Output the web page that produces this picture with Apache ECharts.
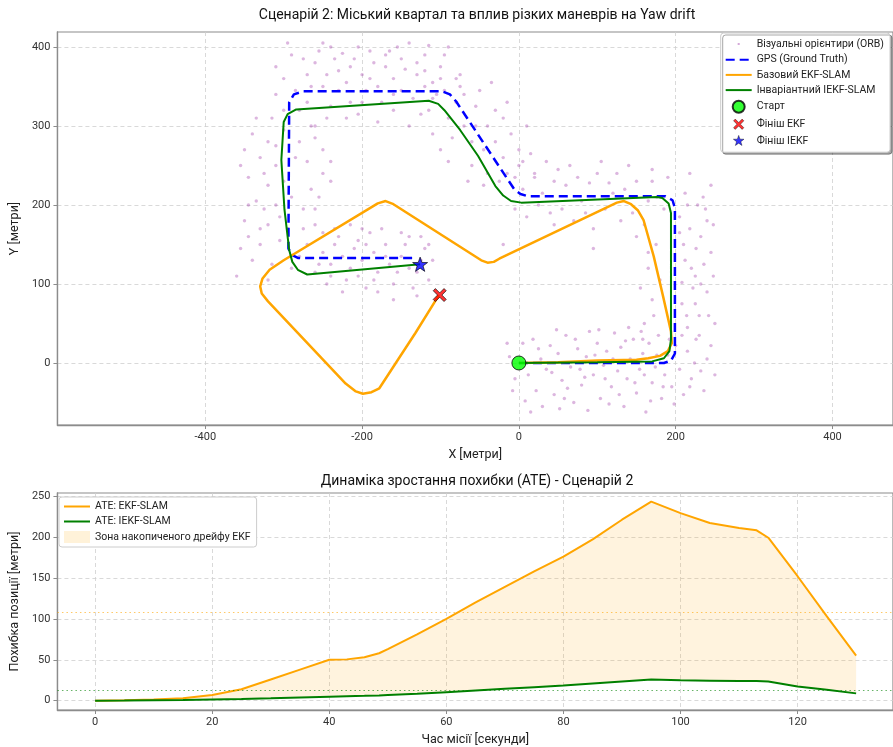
<!DOCTYPE html>
<html><head><meta charset="utf-8">
<script src="https://cdn.jsdelivr.net/npm/echarts@6/dist/echarts.min.js"></script>
<style>html,body{margin:0;padding:0;background:#fff}#c{width:893px;height:747px}</style>
</head><body><div id="c"></div>
<script>
// ---------- Top chart data (metres) ----------
const landmarks = [
[-5,-20],[-12,8],[5,25],[12,-15],[18,30],[22,-35],[28,5],[35,-8],[40,22],[45,-40],[50,12],[55,-22],[60,35],[66,-5],[70,-50],[75,18],[80,-28],[86,8],[90,40],[95,-15],[100,25],[104,-45],[108,-3],[112,15],[118,-30],[122,38],[126,-10],[130,20],[134,-55],[138,-20],[142,5],[146,30],[150,-38],[154,-8],[158,12],[162,-62],[166,25],[170,-25],[174,-5],[178,35],[182,-45],[186,-15],[190,10],[195,-30],[200,22],[205,-8],[210,-40],[215,15],[220,-20],[226,30],[232,-10],[240,5],[30,-55],[62,-32],[88,-60],[115,-52],[-8,-35],[48,42],[140,45],
[8,-48],[25,18],[42,-12],[58,-45],[72,30],[84,-18],[97,10],[110,-20],[120,5],[128,-40],[136,28],[148,-25],[156,40],[168,-48],[176,10],[184,-30],[192,30],[198,-52],[208,35],[218,-30],[224,0],[236,-35],[245,22],[250,-15],[-15,25],[15,-62],[52,-58],[78,-8],[102,42],[160,-15],
[160,50],[215,45],[230,60],[170,80],[208,75],[240,90],[225,110],[165,120],[212,130],[245,140],[232,160],[175,150],[218,170],[205,185],[240,180],[160,175],[228,200],[185,195],[212,215],[245,225],[170,230],[222,95],[180,105],[236,125],[210,150],[155,95],[248,175],[214,60],[230,35],[218,240],[190,235],[235,210],[208,102],[226,145],[172,60],[242,60],[220,120],[205,165],
[158,30],[225,75],[248,110],[165,140],[238,195],[176,210],[150,160],[232,100],[215,200],[250,50],
[150,230],[120,215],[100,240],[80,205],[60,225],[40,190],[20,235],[0,250],[130,180],[110,195],[90,228],[70,180],[50,245],[30,215],[10,185],[140,250],[165,205],[-15,240],[125,240],[95,170],[55,195],[5,220],[75,235],[35,255],[115,228],[145,190],[95,145],[-20,150],[45,175],
[170,245],[135,220],[105,255],[85,190],[65,250],[25,200],[-5,195],[150,210],[45,230],
[-20,260],[0,270],[-40,300],[-10,290],[-60,280],[-30,320],[-80,330],[-50,345],[-70,300],[-100,360],[-90,310],[-110,290],[-60,250],[-40,240],[10,300],[-15,330],[-75,365],[-120,370],[-45,270],[-25,230],[5,255],[-85,285],[-55,325],[-95,345],[-35,355],[-5,235],[20,240],[-65,230],[-100,270],[-115,320],
[-30,280],[-70,340],[-110,335],[-20,310],[-45,225],[15,265],[-90,255],[-55,300],
[-300,360],[-310,375],[-290,390],[-270,365],[-260,380],[-250,350],[-240,400],[-230,370],[-220,355],[-210,385],[-200,365],[-190,395],[-180,350],[-170,375],[-160,360],[-150,385],[-140,405],[-130,365],[-120,390],[-110,355],[-100,375],[-90,400],[-80,360],[-280,320],[-260,300],[-240,325],[-220,310],[-200,330],[-180,305],[-160,320],[-140,300],[-125,315],[-255,395],[-205,400],[-165,395],[-115,402],[-285,345],[-235,385],[-195,345],[-150,345],[-270,330],[-245,310],[-175,330],[-105,340],[-215,330],[-135,335],[-225,392],[-185,380],[-145,372],
[-310,340],[-295,405],[-275,385],[-245,365],[-215,375],[-190,360],[-155,400],[-130,380],[-95,390],[-75,350],[-265,350],[-230,345],[-160,340],[-120,350],[-300,320],[-205,315],[-250,405],[-170,390],
[-340,290],[-320,280],[-300,295],[-260,285],[-250,270],[-330,260],[-310,250],[-270,255],[-345,235],[-320,225],[-300,230],[-265,220],[-250,240],[-335,205],[-310,200],[-275,195],[-350,180],[-320,175],[-295,170],[-260,175],[-330,150],[-305,155],[-270,150],[-340,130],[-315,125],[-280,135],[-360,110],[-320,105],[-350,270],[-280,280],[-255,210],[-325,195],[-290,210],[-345,160],[-275,170],[-310,275],[-240,255],[-335,310],
[-355,250],[-325,240],[-285,260],[-265,300],[-345,200],[-305,185],[-260,195],[-330,170],[-290,120],[-355,145],[-240,230],[-315,310],
[-260,115],[-250,140],[-240,125],[-230,160],[-220,105],[-210,145],[-200,130],[-190,165],[-180,115],[-170,150],[-160,100],[-150,135],[-140,160],[-130,115],[-120,145],[-115,105],[-245,100],[-225,135],[-205,110],[-185,140],[-165,125],[-145,150],[-125,130],[-235,170],[-195,95],[-175,170],[-155,115],[-135,95],[-110,130],[-215,175],[-250,165],[-160,80],[-195,150],[-225,90],
[-255,125],[-235,150],[-215,120],[-200,170],[-185,105],[-170,135],[-150,165],[-140,120],[-125,160],[-115,150],[-130,85],[-180,90],[-240,110],[-205,155]
];
const gpsPath = [[0,0],[185,0],[194,3],[199,12],[199,196],[196,206],[187,211],[12,211],[2,214],[-6,220],[-80,331],[-88,340],[-98,344],[-275,344],[-287,340],[-293,330],[-294,145],[-290,137],[-282,133],[-135,133]];
const ekfPath = [[0,0],[50,1],[100,3],[150,4],[165,6],[180,9],[190,15],[195,25],[194,40],[184,84],[172,135],[159,181],[152,193],[143,201],[134,205],[125,203],[-25,132],[-32,128],[-40,127],[-48,130],[-160,201],[-170,205],[-180,202],[-300,130],[-318,118],[-327,107],[-330,97],[-328,88],[-320,78],[-221,-26],[-208,-36],[-199,-39],[-188,-37],[-178,-32],[-157,0],[-132,38],[-102,86]];
const iekfPath = [[0,0],[100,1],[170,2],[185,6],[192,15],[194,30],[194,190],[191,202],[183,209],[176,210],[3,203],[-10,205],[-20,212],[-30,224],[-52,262],[-75,295],[-95,320],[-103,328],[-115,332],[-284,321],[-295,315],[-300,305],[-303,257],[-299,194],[-293,143],[-289,128],[-282,118],[-270,112],[-126,125]];
const startPoint = [0,0];
const ekfFinish = [-101,86];
const iekfFinish = [-126,125];
const topXTicks = [-400,-200,0,200,400];
const topYTicks = [0,100,200,300,400];

// ---------- Bottom chart data ----------
const missionTime = [0,5,10,15,20,25,30,35,40,43,46,48.5,50,55,60,65,70,75,80,85,90,95,100,105,110,113,115,120,125,130];
const ekfAte  = [0,0.5,1.5,3,7,14,26,38,50,50.5,53,58,63,81,100,120,139,158,176,197,221,243,229,217,211,208,199,152,103,55];
const iekfAte = [0,0.2,0.5,0.8,1.5,2.2,3,4,5,5.5,6,6.5,7,8.5,10.5,12.5,14.5,16.5,18.5,21,23.5,26,25,24.5,24,24,23.5,17.5,13.5,9];
const ekfAteMean = 108;
const iekfAteMean = 12.2;
const bottomXTicks = [0,20,40,60,80,100,120];
const bottomYTicks = [0,50,100,150,200,250];

// ---------- Build ----------
const FONT = 'Roboto';
const pair = (xs, ys) => xs.map((x, i) => [x, ys[i]]);
const xPath = 'path://M-6,-4L-4,-6L0,-2L4,-6L6,-4L2,0L6,4L4,6L0,2L-4,6L-6,4L-2,0Z';
const starPath = 'path://M0,-6.5L1.53,-2.1L6.18,-2.01L2.47,0.8L3.82,5.26L0,2.6L-3.82,5.26L-2.47,0.8L-6.18,-2.01L-1.53,-2.1Z';
const xIcon = 'path://M0,0M26,14M7,3L9,1L13,5L17,1L19,3L15,7L19,11L17,13L13,9L9,13L7,11L11,7Z';
const starIcon = 'path://M0,0M26,14M13,0.5L14.53,4.9L19.18,4.99L15.47,7.8L16.82,12.26L13,9.6L9.18,12.26L10.53,7.8L6.82,4.99L11.47,4.9Z';
const dotIcon = 'path://M0,0M26,14M11.8,5.8L14.2,5.8L14.2,8.2L11.8,8.2Z';

const axisCommon = {
  axisLine: {show: true, onZero: false, lineStyle: {color: '#8c8c8c', width: 1.3}},
  axisTick: {show: true, length: 4, lineStyle: {color: '#8c8c8c'}},
  splitLine: {show: true, lineStyle: {color: '#cfcfcf', type: [4, 3], width: 0.8}},
  axisLabel: {color: '#333', fontFamily: FONT, fontSize: 11, margin: 7},
  nameTextStyle: {color: '#222', fontFamily: FONT, fontSize: 12.5},
  nameLocation: 'middle'
};
function axis(extra, ticks) {
  const a = JSON.parse(JSON.stringify(axisCommon));
  Object.assign(a, extra);
  a.type = 'value';
  a.axisTick.customValues = ticks;
  a.axisLabel.customValues = ticks;
  return a;
}

const chart = echarts.init(document.getElementById('c'));
const lineOnly = {itemStyle: {opacity: 0}};

chart.setOption({
  animation: false,
  backgroundColor: '#fff',
  title: [
    {text: 'Сценарій 2: Міський квартал та вплив різких маневрів на Yaw drift', left: 477, top: 8, padding: 0, textAlign: 'center', textVerticalAlign: 'top',
     textStyle: {fontFamily: FONT, fontSize: 14, fontWeight: 'normal', color: '#111'}},
    {text: 'Динаміка зростання похибки (ATE) - Сценарій 2', left: 477, top: 474, padding: 0, textAlign: 'center', textVerticalAlign: 'top',
     textStyle: {fontFamily: FONT, fontSize: 14, fontWeight: 'normal', color: '#111'}}
  ],
  grid: [
    {left: 56, top: 32, width: 842, height: 393, show: true, borderColor: '#8c8c8c', borderWidth: 1.2, containLabel: false},
    {left: 56, top: 493, width: 842, height: 218, show: true, borderColor: '#8c8c8c', borderWidth: 1.2, containLabel: false}
  ],
  xAxis: [
    axis({gridIndex: 0, min: -588.6, max: 477.2, name: 'X [метри]', nameGap: 21}, topXTicks),
    axis({gridIndex: 1, min: -6.44, max: 136.3, name: 'Час місії [секунди]', nameGap: 23}, bottomXTicks)
  ],
  yAxis: [
    axis({gridIndex: 0, min: -78.5, max: 419, name: 'Y [метри]', nameGap: 29}, topYTicks),
    axis({gridIndex: 1, min: -11.3, max: 253.6, name: 'Похибка позиції [метри]', nameGap: 29}, bottomYTicks)
  ],
  legend: [
    {orient: 'vertical', right: 3, top: 33, padding: [5, 6, 5, 4], itemWidth: 26, itemHeight: 12, itemGap: 4.2,
     backgroundColor: '#fff', borderColor: '#cccccc', borderWidth: 1, borderRadius: 3,
     shadowColor: 'rgba(0,0,0,0.35)', shadowOffsetX: 2, shadowOffsetY: 2, shadowBlur: 0,
     textStyle: {fontFamily: FONT, fontSize: 10.5, color: '#222'},
     data: [
       {name: 'Візуальні орієнтири (ORB)', icon: dotIcon, itemStyle: {color: 'rgba(150,40,160,0.5)'}},
       Object.assign({name: 'GPS (Ground Truth)'}, lineOnly),
       Object.assign({name: 'Базовий EKF-SLAM'}, lineOnly),
       Object.assign({name: 'Інваріантний IEKF-SLAM'}, lineOnly),
       {name: 'Старт', icon: 'circle'},
       {name: 'Фініш EKF', icon: xIcon, itemStyle: {color: '#ff0000', borderColor: '#000', borderWidth: 0.5}},
       {name: 'Фініш IEKF', icon: starIcon, itemStyle: {color: '#0000ff', borderColor: '#000', borderWidth: 0.5}}
     ]},
    {orient: 'vertical', left: 59, top: 497, padding: [4, 6, 4, 4], itemWidth: 26, itemHeight: 12, itemGap: 4,
     backgroundColor: '#fff', borderColor: '#cccccc', borderWidth: 1, borderRadius: 3,
     textStyle: {fontFamily: FONT, fontSize: 10.5, color: '#222'},
     data: [Object.assign({name: 'ATE: EKF-SLAM'}, lineOnly), Object.assign({name: 'ATE: IEKF-SLAM'}, lineOnly),
       {name: 'Зона накопиченого дрейфу EKF', icon: 'rect', itemStyle: {color: 'rgba(255,165,0,0.15)', borderWidth: 0}}]}
  ],
  series: [
    {name: 'Візуальні орієнтири (ORB)', type: 'scatter', xAxisIndex: 0, yAxisIndex: 0, data: landmarks,
     symbolSize: 3.4, itemStyle: {color: 'rgba(150,40,160,0.42)'}, z: 1},
    {name: 'GPS (Ground Truth)', type: 'line', xAxisIndex: 0, yAxisIndex: 0, data: gpsPath, symbol: 'none',
     lineStyle: {color: '#0000ff', width: 2.5, type: [9, 5]}, itemStyle: {color: '#0000ff'}, z: 2},
    {name: 'Базовий EKF-SLAM', type: 'line', xAxisIndex: 0, yAxisIndex: 0, data: ekfPath, symbol: 'none',
     lineStyle: {color: '#ffa500', width: 2.5}, itemStyle: {color: '#ffa500'}, z: 3},
    {name: 'Інваріантний IEKF-SLAM', type: 'line', xAxisIndex: 0, yAxisIndex: 0, data: iekfPath, symbol: 'none',
     lineStyle: {color: '#008000', width: 2}, itemStyle: {color: '#008000'}, z: 4},
    {name: 'Старт', type: 'scatter', xAxisIndex: 0, yAxisIndex: 0, data: [startPoint], symbol: 'circle', symbolSize: 14,
     itemStyle: {color: '#00ff00', borderColor: '#000', borderWidth: 1}, z: 6},
    {name: 'Фініш EKF', type: 'scatter', xAxisIndex: 0, yAxisIndex: 0, data: [ekfFinish], symbol: xPath, symbolSize: 13,
     itemStyle: {color: '#ff0000', borderColor: '#000', borderWidth: 0.8}, z: 6},
    {name: 'Фініш IEKF', type: 'scatter', xAxisIndex: 0, yAxisIndex: 0, data: [iekfFinish], symbol: starPath, symbolSize: 15, symbolKeepAspect: true,
     itemStyle: {color: '#0000ff', borderColor: '#000', borderWidth: 0.8}, z: 6},

    {name: 'Зона накопиченого дрейфу EKF', type: 'custom', xAxisIndex: 1, yAxisIndex: 1, data: [[missionTime[0], ekfAte[0]]],
     encode: {x: 0, y: 1}, silent: true, z: 1, itemStyle: {color: 'rgba(255,165,0,0.15)'},
     renderItem: function (params, api) {
       const pts = [];
       for (let i = 0; i < missionTime.length; i++) pts.push(api.coord([missionTime[i], ekfAte[i]]));
       for (let i = missionTime.length - 1; i >= 0; i--) pts.push(api.coord([missionTime[i], iekfAte[i]]));
       return {type: 'polygon', shape: {points: pts}, style: {fill: 'rgba(255,165,0,0.13)'}};
     }},
    {name: 'ATE: EKF-SLAM', type: 'line', xAxisIndex: 1, yAxisIndex: 1, data: pair(missionTime, ekfAte), symbol: 'none',
     lineStyle: {color: '#ffa500', width: 2}, itemStyle: {color: '#ffa500'}, z: 3,
     markLine: {silent: true, symbol: 'none', label: {show: false}, lineStyle: {color: 'rgba(255,165,0,0.6)', type: [1.5, 3], width: 1.2},
       data: [{yAxis: ekfAteMean}]}},
    {name: 'ATE: IEKF-SLAM', type: 'line', xAxisIndex: 1, yAxisIndex: 1, data: pair(missionTime, iekfAte), symbol: 'none',
     lineStyle: {color: '#008000', width: 2}, itemStyle: {color: '#008000'}, z: 3,
     markLine: {silent: true, symbol: 'none', label: {show: false}, lineStyle: {color: 'rgba(0,128,0,0.6)', type: [1.5, 3], width: 1.2},
       data: [{yAxis: iekfAteMean}]}}
  ]
});
</script></body></html>
